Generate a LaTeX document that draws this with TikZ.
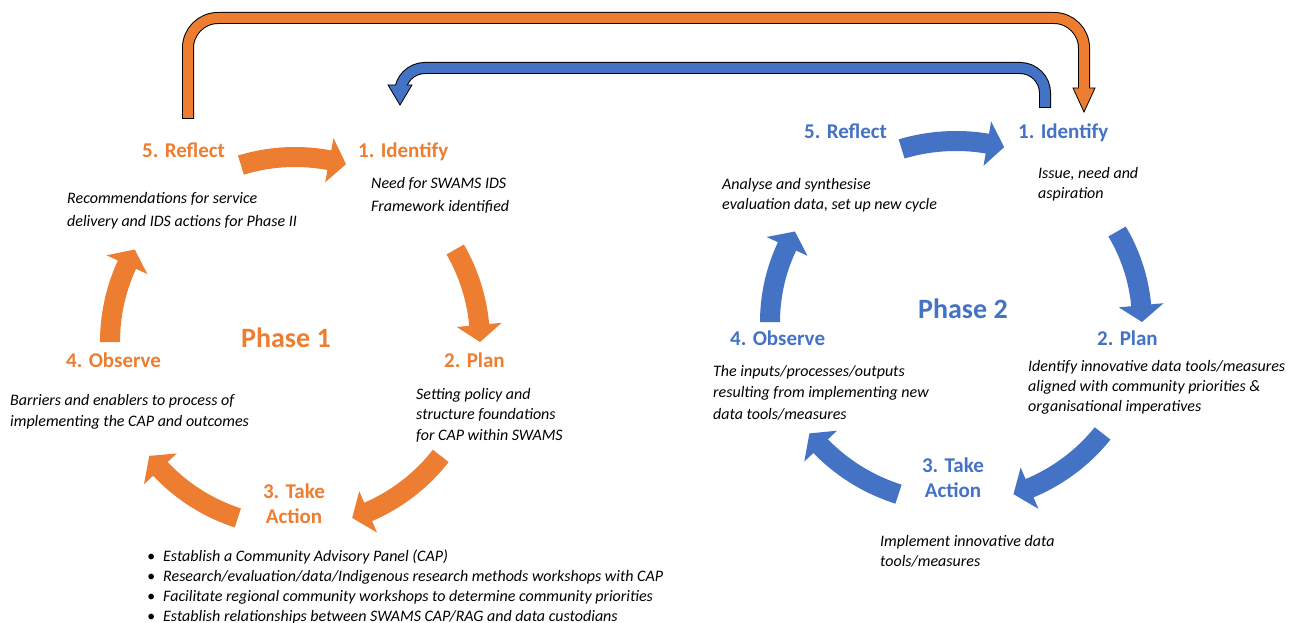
\documentclass[tikz,border=0pt]{standalone}
\usepackage{fontspec}
\setmainfont{Carlito}
\definecolor{orng}{HTML}{ED7D31}
\definecolor{blu}{HTML}{4472C4}
\newcommand\fstrut{\rule{0pt}{12pt}}
\newcommand\cycarr[7]{%
  \pgfmathsetmacro\cyhb{#6-5.3}%
  \fill[#7] plot[domain=#5:\cyhb,samples=25,variable=\t] ({#1+(#3+10)*cos(\t)},{#2+(#4+10)*sin(\t)})
    -- ({#1+(#3+22.5)*cos(\cyhb)},{#2+(#4+22.5)*sin(\cyhb)})
    -- ({#1+#3*cos(#6)},{#2+#4*sin(#6)})
    -- ({#1+(#3-22.5)*cos(\cyhb)},{#2+(#4-22.5)*sin(\cyhb)})
    -- plot[domain=\cyhb:#5,samples=25,variable=\t] ({#1+(#3-10)*cos(\t)},{#2+(#4-10)*sin(\t)})
    -- cycle;}
\tikzset{
  head/.style={font=\bfseries\fontsize{21}{25}\selectfont, inner sep=0pt, anchor=base west},
  phase/.style={font=\bfseries\fontsize{28}{32}\selectfont, inner sep=0pt, anchor=base west},
  take/.style={font=\bfseries\fontsize{21}{25}\selectfont, inner sep=0pt, align=center, anchor=center},
  body/.style={font=\itshape\fontsize{16}{21}\selectfont, inner sep=0pt, align=left, anchor=north west},
}
\begin{document}
\begin{tikzpicture}[x=1pt,y=-1pt]
\fill[white] (0,0) rectangle (1291,623);
\useasboundingbox (0,0) rectangle (1291,623);

% ---------- Phase 1 ----------
\node[head, text=orng] (r1) at (142,158) {5. Reflect};
\node[head, text=orng] (i1) at (358,158) {1. Identify};
\node[head, text=orng] (o1) at (66,367) {4. Observe};
\node[head, text=orng] (p1) at (444,367) {2. Plan};
\node[phase, text=orng] (ph1) at (241,347) {Phase 1};
\node[take, text=orng] (t1) at (294,503.5) {3. Take\\Action};

\node[body, font=\itshape\fontsize{16}{23}\selectfont] (r1t) at (67,191) {\fstrut Recommendations for service\\delivery and IDS actions for Phase II};
\node[body, font=\itshape\fontsize{16}{23}\selectfont] (i1t) at (371,176) {\fstrut Need for SWAMS IDS\\Framework identified};
\node[body] (o1t) at (10,393) {\fstrut Barriers and enablers to process of\\implementing the CAP and outcomes};
\node[body, font=\itshape\fontsize{16}{20.5}\selectfont] (p1t) at (416,387) {\fstrut Setting policy and\\structure foundations\\for CAP within SWAMS};
\node[body, font=\itshape\fontsize{16}{20}\selectfont] (t1t) at (147,549) {%
\fstrut\makebox[16pt][l]{•}Establish a Community Advisory Panel (CAP)\\
\makebox[16pt][l]{•}Research/evaluation/data/Indigenous research methods workshops with CAP\\
\makebox[16pt][l]{•}Facilitate regional community workshops to determine community priorities\\
\makebox[16pt][l]{•}Establish relationships between SWAMS CAP/RAG and data custodians};

\cycarr{295}{342}{185}{185}{-107}{-74}{orng}
\cycarr{295}{342}{185}{185}{-30}{0}{orng}
\cycarr{295}{342}{185}{185}{38}{72}{orng}
\cycarr{295}{342}{185}{185}{108}{142}{orng}
\cycarr{295}{342}{185}{185}{180}{210}{orng}

% ---------- Phase 2 ----------
\node[head, text=blu] (r2) at (804,139) {5. Reflect};
\node[head, text=blu] (i2) at (1018,139) {1. Identify};
\node[head, text=blu] (o2) at (730,345) {4. Observe};
\node[head, text=blu] (p2) at (1097,345) {2. Plan};
\node[phase, text=blu] (ph2) at (918,318) {Phase 2};
\node[take, text=blu] (t2) at (953,478) {3. Take\\Action};

\node[body, font=\itshape\fontsize{16}{20}\selectfont] (r2t) at (722,177) {\fstrut Analyse and synthesise\\evaluation data, set up new cycle};
\node[body, font=\itshape\fontsize{16}{20}\selectfont] (i2t) at (1038,166) {\fstrut Issue, need and\\aspiration};
\node[body, font=\itshape\fontsize{16}{21.5}\selectfont] (o2t) at (713,364) {\fstrut The inputs/processes/outputs\\resulting from implementing new\\data tools/measures};
\node[body, font=\itshape\fontsize{16}{20}\selectfont] (p2t) at (1028,359) {\fstrut Identify innovative data tools/measures\\aligned with community priorities \&\\organisational imperatives};
\node[body, font=\itshape\fontsize{16}{20}\selectfont] (t2t) at (880,534) {\fstrut Implement innovative data\\tools/measures};

\cycarr{956}{322}{186}{181}{-107}{-75}{blu}
\cycarr{956}{322}{186}{181}{-30}{0}{blu}
\cycarr{956}{322}{186}{181}{38}{72}{blu}
\cycarr{956}{322}{186}{181}{108}{142}{blu}
\cycarr{956}{322}{186}{181}{180}{210}{blu}

% ---------- Connectors between phases ----------
\coordinate (oS) at (188,118);
\coordinate (oE) at (1084,112);
\coordinate (bS) at (1045,107);
\coordinate (bE) at (400,105);

% orange: Phase 1 Reflect -> Phase 2 Identify
\draw[line width=12pt, black, rounded corners=30pt] ([yshift=-1pt]oS) |- (636,18) -| ([yshift=24pt]oE);
\filldraw[fill=orng, draw=black, line width=0.8pt] ([xshift=-11pt,yshift=24pt]oE) -- (oE) -- ([xshift=11pt,yshift=24pt]oE) -- cycle;
\draw[line width=10pt, orng, rounded corners=30pt] (oS) |- (636,18) -| ([yshift=22.5pt]oE);

% blue: Phase 2 Reflect -> Phase 1 Identify
\draw[line width=12pt, black, rounded corners=25pt] ([yshift=-1pt]bS) |- (720,68) -| ([yshift=20pt]bE);
\filldraw[fill=blu, draw=black, line width=0.8pt] ([xshift=-12pt,yshift=20pt]bE) -- (bE) -- ([xshift=12pt,yshift=20pt]bE) -- cycle;
\draw[line width=10pt, blu, rounded corners=25pt] (bS) |- (720,68) -| ([yshift=18.5pt]bE);
\end{tikzpicture}
\end{document}
